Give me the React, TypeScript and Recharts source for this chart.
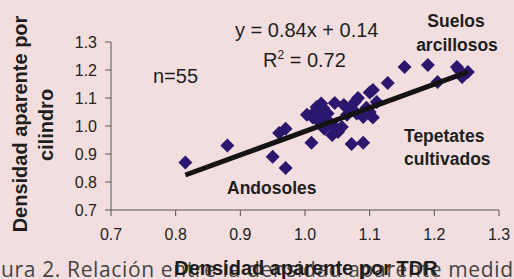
import { Scatter, ScatterChart, XAxis, YAxis } from "recharts";

// densidad aparente por TDR (x) y por cilindro (y), n=55
const tdr = [
  0.815, 0.88, 0.95, 0.97, 0.96, 0.97, 1.01, 1.003, 1.018, 1.028, 1.046, 1.028,
  1.039, 1.057, 1.051, 1.042, 1.072, 1.09, 1.077, 1.082, 1.09, 1.1, 1.105, 1.105,
  1.111, 1.128, 1.154, 1.19, 1.235, 1.252, 1.243, 1.205, 1.015, 1.035, 1.02, 1.045,
  1.03, 1.065, 1.07, 1.08, 1.095, 1.1, 1.06, 1.012, 1.025, 1.238,
];
const cilindro = [
  0.87, 0.93, 0.89, 0.85, 0.975, 0.99, 0.94, 1.04, 1.068, 1.064, 1.082, 1.03,
  1.011, 0.996, 0.979, 0.968, 0.936, 0.94, 1.086, 1.1, 1.032, 1.12, 1.03, 1.129,
  1.086, 1.154, 1.211, 1.218, 1.211, 1.193, 1.175, 1.157, 1.05, 1.045, 1.02, 1.0,
  0.99, 1.04, 1.06, 1.045, 1.065, 1.05, 1.075, 1.03, 1.08, 1.2,
];

// recta de ajuste y = 0.84x + 0.14, extremos
const fitX = [0.815, 1.252];
const fitY = [0.825, 1.193];

const ticks = [0.7, 0.8, 0.9, 1.0, 1.1, 1.2, 1.3];

const points = tdr.map((x, i) => ({ x, y: cilindro[i] }));
const fit = fitX.map((x, i) => ({ x, y: fitY[i] }));

const BG = "#f2dede";
const MARK = "#2c176e";
const FONT = "'Liberation Sans', Arial, sans-serif";

const Diamond = (props: any) => {
  const { cx, cy } = props;
  const r = 7;
  return (
    <polygon
      points={`${cx},${cy - r} ${cx + r},${cy} ${cx},${cy + r} ${cx - r},${cy}`}
      fill={MARK}
    />
  );
};

export default function App() {
  const tickStyle = { fontSize: 16, fill: "#222", fontFamily: FONT };
  return (
    <div
      style={{
        position: "absolute",
        left: 0,
        top: 0,
        width: 514,
        height: 279,
        background: BG,
        fontFamily: FONT,
        overflow: "hidden",
      }}
    >
      <ScatterChart
        width={514}
        height={279}
        margin={{ top: 42, right: 15, bottom: 39, left: 51 }}
      >
        <XAxis
          type="number"
          dataKey="x"
          domain={[0.7, 1.3]}
          ticks={ticks}
          tickFormatter={(v) => v.toFixed(1)}
          tick={tickStyle}
          stroke="#555"
          tickSize={6}
          tickMargin={13}
          height={30}
          allowDataOverflow
        />
        <YAxis
          type="number"
          dataKey="y"
          domain={[0.7, 1.3]}
          ticks={ticks}
          tickFormatter={(v) => v.toFixed(1)}
          tick={tickStyle}
          stroke="#555"
          tickSize={6}
          tickMargin={8}
          width={60}
          allowDataOverflow
        />
        <Scatter data={points} shape={Diamond} isAnimationActive={false} />
        <Scatter
          data={fit}
          line={{ stroke: "#141414", strokeWidth: 5 }}
          shape={() => <g />}
          isAnimationActive={false}
        />
      </ScatterChart>

      <svg
        width={514}
        height={279}
        style={{ position: "absolute", left: 0, top: 0, pointerEvents: "none" }}
      >
        <g fontFamily={FONT} fill="#1e1e1e">
          <text x={235} y={37} fontSize={20}>y = 0.84x + 0.14</text>
          <text x={263} y={67} fontSize={20}>
            R<tspan dy={-8} fontSize={12}>2</tspan>
            <tspan dy={8}> = 0.72</tspan>
          </text>
          <text x={153} y={83} fontSize={20}>n=55</text>

          <g fontWeight="bold" fontSize={17.5}>
            <text x={456} y={27} textAnchor="middle">Suelos</text>
            <text x={457} y={51} textAnchor="middle">arcillosos</text>
            <text x={404} y={142}>Tepetates</text>
            <text x={404} y={165}>cultivados</text>
            <text x={227} y={194}>Andosoles</text>
          </g>

          <g fontWeight="bold" fontSize={20}>
            <text transform="translate(27,124) rotate(-90)" textAnchor="middle">
              Densidad aparente por
            </text>
            <text transform="translate(53,125) rotate(-90)" textAnchor="middle">
              cilindro
            </text>
          </g>

          <text
            x={1}
            y={277}
            fontSize={21}
            fontFamily="'Open Sans', sans-serif"
            fill="#444"
            textLength={512}
            lengthAdjust="spacing"
          >
            ura 2. Relación entre la densidad aparente medid
          </text>
          <text x={306} y={275} fontSize={20} fontWeight="bold" textAnchor="middle">
            Densidad aparente por TDR
          </text>
        </g>
      </svg>
    </div>
  );
}
